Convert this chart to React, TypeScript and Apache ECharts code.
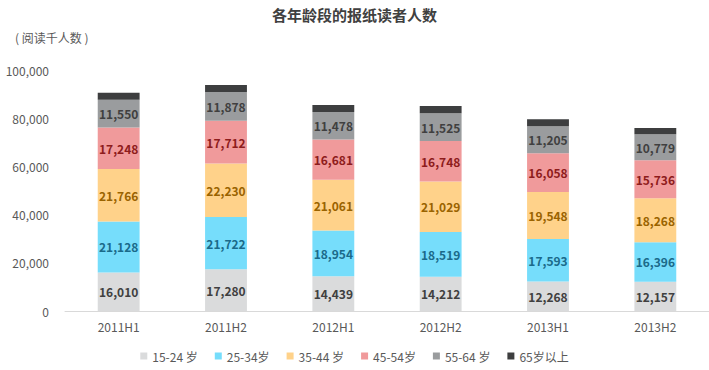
import React, { useEffect, useRef } from "react";
import * as echarts from "echarts";

const categories = ["2011H1", "2011H2", "2012H1", "2012H2", "2013H1", "2013H2"];
const seriesNames = ["15-24 岁", "25-34岁", "35-44 岁", "45-54岁", "55-64 岁", "65岁以上"];
const age15_24 = [16010, 17280, 14439, 14212, 12268, 12157];
const age25_34 = [21128, 21722, 18954, 18519, 17593, 16396];
const age35_44 = [21766, 22230, 21061, 21029, 19548, 18268];
const age45_54 = [17248, 17712, 16681, 16748, 16058, 15736];
const age55_64 = [11550, 11878, 11478, 11525, 11205, 10779];
const age65plus = [2900, 2950, 2850, 3000, 2850, 2600];

const colors = ["#dadbdc", "#76ddfb", "#ffd28a", "#f09a9b", "#9a9c9e", "#3d3e3f"];
const labelColors = ["#404040", "#1b6a8a", "#9a6300", "#8e1c1c", "#404040", null];

const FONT = "'Noto Sans CJK SC', 'Noto Sans', sans-serif";

export default function App() {
  const ref = useRef<HTMLDivElement>(null);
  useEffect(() => {
    if (!ref.current) return;
    const chart = echarts.init(ref.current, null, { renderer: "svg" });
    const all = [age15_24, age25_34, age35_44, age45_54, age55_64, age65plus];
    chart.setOption({
      animation: false,
      textStyle: { fontFamily: FONT },
      title: [
        {
          text: "各年龄段的报纸读者人数",
          left: "center",
          top: 2,
          textStyle: { fontSize: 15, fontWeight: "bold", color: "#404040", fontFamily: FONT },
        },
        {
          text: "( 阅读千人数 )",
          left: 10,
          top: 26,
          textStyle: { fontSize: 12, fontWeight: "normal", color: "#595959", fontFamily: FONT },
        },
      ],
      legend: {
        bottom: 3,
        left: "center",
        itemWidth: 7,
        itemHeight: 7,
        itemGap: 17,
        icon: "rect",
        textStyle: { fontSize: 12, color: "#595959", fontFamily: FONT },
        data: seriesNames,
      },
      grid: { left: 65, right: 0, top: 70, bottom: 59 },
      xAxis: {
        type: "category",
        data: categories,
        axisLine: { lineStyle: { color: "#d9d9d9" } },
        axisTick: { show: false },
        axisLabel: { color: "#595959", fontSize: 12, margin: 9, fontFamily: FONT },
      },
      yAxis: {
        type: "value",
        min: 0,
        max: 100000,
        interval: 20000,
        splitLine: { show: false },
        axisLine: { show: false },
        axisTick: { show: false },
        axisLabel: {
          color: "#595959",
          fontSize: 12,
          margin: 16,
          fontFamily: FONT,
          formatter: (v: number) => v.toLocaleString("en-US"),
        },
      },
      series: all.map((d, i) => ({
        name: seriesNames[i],
        type: "bar",
        stack: "total",
        barWidth: "39%",
        data: d,
        itemStyle: { color: colors[i] },
        label: labelColors[i]
          ? {
              show: true,
              position: "inside",
              color: labelColors[i],
              fontSize: 12,
              fontWeight: "bold",
              fontFamily: FONT,
              formatter: (p: any) => Number(p.value).toLocaleString("en-US"),
            }
          : { show: false },
      })),
    });
    return () => chart.dispose();
  }, []);
  return (
    <div
      ref={ref}
      style={{ position: "absolute", left: 0, top: 0, width: 709, height: 370 }}
    />
  );
}
